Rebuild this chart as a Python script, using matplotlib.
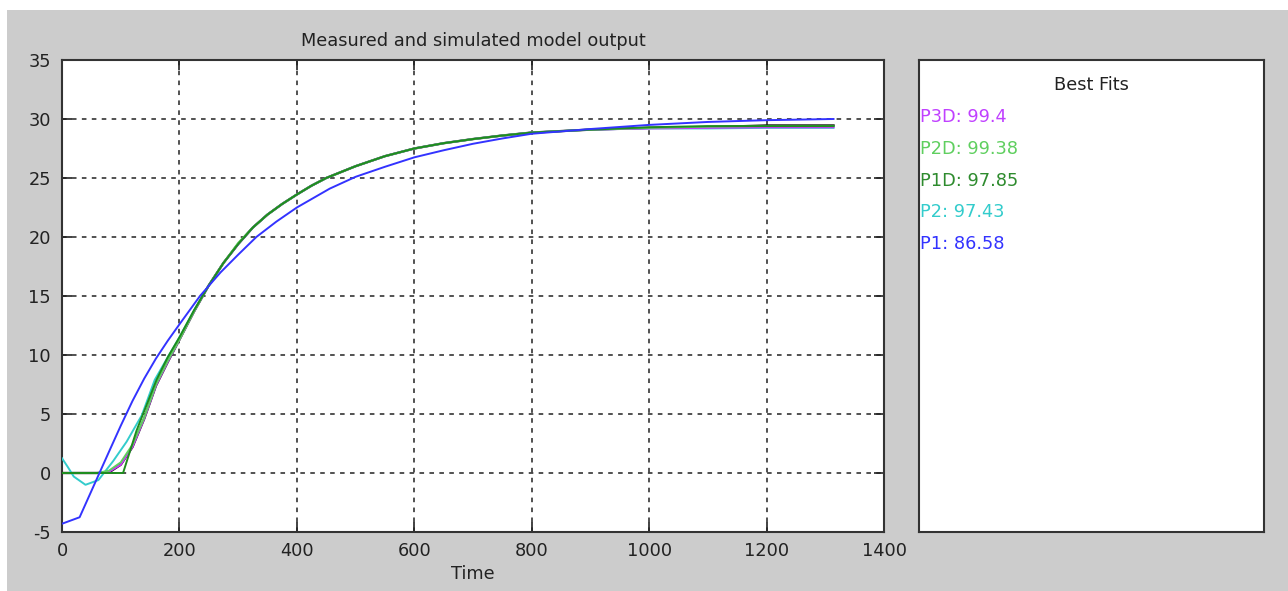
import matplotlib
matplotlib.use("Agg")
import matplotlib.pyplot as plt
from matplotlib.patches import Rectangle

plt.rcParams['font.family'] = ['DejaVu Sans']
plt.rcParams['axes.unicode_minus'] = False

# ---- data ----
t_common = [0, 20, 40, 60, 80, 100, 120, 140, 160, 180, 200, 225, 250, 275, 300, 325, 350, 375, 400,
            425, 450, 500, 550, 600, 650, 700, 750, 800, 900, 1000, 1100, 1200, 1314]

y_meas = [0, 0, 0, 0, 0.05, 0.7, 2.2, 4.6, 7.4, 9.4, 11.3, 13.7, 15.9, 17.8, 19.4, 20.8, 21.9, 22.8, 23.6,
          24.35, 25.0, 26.0, 26.85, 27.5, 27.95, 28.3, 28.6, 28.85, 29.1, 29.25, 29.3, 29.45, 29.45]

y_p3d = [0, 0, 0, 0, 0.1, 0.7, 2.2, 4.6, 7.4, 9.4, 11.3, 13.7, 15.9, 17.8, 19.4, 20.8, 21.9, 22.8, 23.6,
         24.35, 25.0, 26.0, 26.85, 27.5, 27.95, 28.3, 28.6, 28.85, 29.1, 29.2, 29.25, 29.3, 29.3]

y_p2d = [0, 0, 0, 0, 0.2, 0.9, 2.4, 4.7, 7.5, 9.5, 11.3, 13.7, 15.9, 17.8, 19.5, 20.8, 21.9, 22.8, 23.6,
         24.35, 25.0, 26.0, 26.85, 27.5, 27.95, 28.3, 28.6, 28.85, 29.1, 29.25, 29.35, 29.4, 29.4]

t_p1d = [0, 20, 40, 60, 80, 104, 127, 161, 180, 200, 225, 250, 275, 300, 325, 350, 375, 400,
         425, 450, 500, 550, 600, 650, 700, 750, 800, 900, 1000, 1100, 1200, 1314]
y_p1d = [0, 0, 0, 0, 0, 0, 3.6, 7.9, 9.8, 11.5, 13.8, 15.9, 17.8, 19.4, 20.8, 21.9, 22.8, 23.6,
         24.35, 25.0, 26.0, 26.85, 27.5, 27.95, 28.3, 28.6, 28.85, 29.1, 29.3, 29.4, 29.4, 29.4]

t_p2 = [0, 10, 20, 40, 62, 87, 110, 136, 158, 180, 200, 225, 250, 275, 300, 325, 350, 375, 400,
        425, 450, 500, 550, 600, 650, 700, 750, 800, 900, 1000, 1100, 1200, 1314]
y_p2 = [1.25, 0.5, -0.3, -1.0, -0.6, 1.0, 2.65, 4.9, 7.9, 9.8, 11.5, 13.8, 15.9, 17.8, 19.4, 20.8, 21.9, 22.8, 23.6,
        24.35, 25.0, 26.0, 26.85, 27.5, 27.95, 28.3, 28.6, 28.85, 29.1, 29.2, 29.2, 29.25, 29.25]

t_p1 = [0, 30, 62, 80, 100, 120, 140, 160, 180, 200, 235, 270, 300, 331, 365, 400, 456, 500, 550, 600,
        650, 700, 750, 800, 900, 1000, 1100, 1200, 1314]
y_p1 = [-4.3, -3.75, -0.2, 1.8, 4.0, 6.1, 8.0, 9.7, 11.2, 12.6, 15.0, 17.0, 18.5, 20.0, 21.3, 22.5, 24.1, 25.1,
        25.95, 26.75, 27.35, 27.9, 28.35, 28.75, 29.15, 29.5, 29.75, 29.9, 30.0]

fit_labels = ["P3D: 99.4", "P2D: 99.38", "P1D: 97.85", "P2: 97.43", "P1: 86.58"]
fit_colors = ["#C040FF", "#5FCF5F", "#2E8B2E", "#33CCCC", "#3333FF"]

xticks = [0, 200, 400, 600, 800, 1000, 1200, 1400]
yticks = [-5, 0, 5, 10, 15, 20, 25, 30, 35]

# ---- figure ----
W, H = 1288, 591
fig = plt.figure(figsize=(W / 100, H / 100), dpi=100, facecolor="white")
fig.patches.append(Rectangle((7 / W, 0), 1 - 7 / W, 1 - 10 / H, transform=fig.transFigure,
                             facecolor="#CCCCCC", edgecolor="none", zorder=-10))

def box(x0, y0, x1, y1):
    return [x0 / W, 1 - y1 / H, (x1 - x0) / W, (y1 - y0) / H]

ax = fig.add_axes(box(62, 60, 884, 532))
ax.set_facecolor("white")

lw = 1.4
fs = 12.8
ax.plot(t_common, y_meas, color="#111111", lw=lw + 0.3, zorder=2)
ax.plot(t_p2, y_p2, color="#33CCCC", lw=lw, zorder=3)
ax.plot(t_common, y_p3d, color="#CC33FF", lw=lw, zorder=3)
ax.plot(t_common, y_p2d, color="#5FCF5F", lw=lw, zorder=3)
ax.plot(t_p1d, y_p1d, color="#1E8C1E", lw=lw, zorder=3)
ax.plot(t_p1, y_p1, color="#3333FF", lw=lw, zorder=4)

ax.set_xlim(0, 1400)
ax.set_ylim(-5, 35)
ax.set_xticks(xticks)
ax.set_yticks(yticks)
ax.grid(True, color="#222222", linestyle=(0, (3, 3.5)), linewidth=1.1)
ax.set_axisbelow(True)
ax.tick_params(direction="in", length=7, width=1.2, top=True, right=True,
               labelsize=fs, colors="#222222")
ax.tick_params(axis="x", pad=7)
ax.tick_params(axis="y", pad=8)
for s in ax.spines.values():
    s.set_color("#333333")
    s.set_linewidth(1.5)
ax.set_xlabel("Time", fontsize=fs, color="#222222", labelpad=4)
ax.set_title("Measured and simulated model output", fontsize=fs, color="#222222", pad=10)

# ---- Best fits panel ----
ax2 = fig.add_axes(box(919, 60, 1264, 532))
ax2.set_facecolor("white")
ax2.set_xticks([])
ax2.set_yticks([])
for s in ax2.spines.values():
    s.set_color("#333333")
    s.set_linewidth(1.5)
ax2.set_xlim(0, 345)
ax2.set_ylim(472, 0)
ax2.text(172, 25, "Best Fits", ha="center", va="center", fontsize=fs, color="#222222")
for i, (lab, col) in enumerate(zip(fit_labels, fit_colors)):
    ax2.text(1, 57 + i * 31.8, lab, ha="left", va="center", fontsize=fs, color=col)

fig.savefig("out.png", dpi=100, facecolor="white")
